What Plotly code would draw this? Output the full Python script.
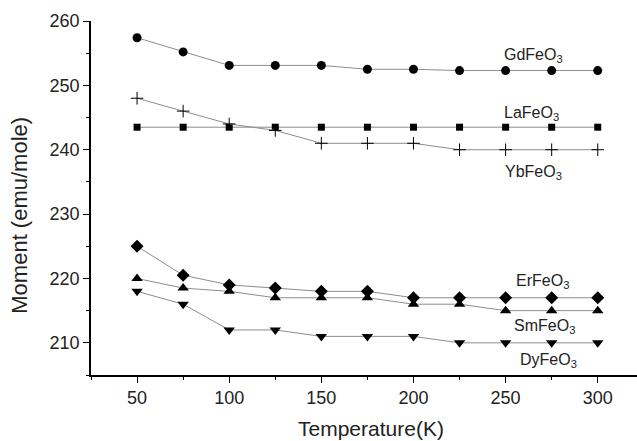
import plotly.graph_objects as go

temps = [50, 75, 100, 125, 150, 175, 200, 225, 250, 275, 300]
gd = [257.4, 255.2, 253.1, 253.1, 253.1, 252.5, 252.5, 252.3, 252.3, 252.3, 252.3]
la = [243.5] * 11
yb = [248, 246, 244, 243, 241, 241, 241, 240, 240, 240, 240]
er = [225, 220.5, 219, 218.5, 218, 218, 217, 217, 217, 217, 217]
sm = [220, 218.5, 218, 217, 217, 217, 216, 216, 215, 215, 215]
dy = [218, 216, 212, 212, 211, 211, 211, 210, 210, 210, 210]

series = [
    ("GdFeO<sub>3</sub>", gd, "circle", 9),
    ("LaFeO<sub>3</sub>", la, "square", 7),
    ("YbFeO<sub>3</sub>", yb, "cross-thin", 9),
    ("ErFeO<sub>3</sub>", er, "diamond", 10),
    ("SmFeO<sub>3</sub>", sm, "triangle-up", 10),
    ("DyFeO<sub>3</sub>", dy, "triangle-down", 10),
]

label_x = [265, 264, 265, 270, 271, 273]
label_y = [254.7, 245.6, 236.5, 219.5, 212.5, 207.2]

FONT = "Liberation Sans, Arial, sans-serif"

fig = go.Figure()
for name, vals, sym, sz in series:
    fig.add_trace(go.Scatter(
        x=temps, y=vals, mode="lines+markers", name=name,
        line=dict(color="#8c8c8c", width=1),
        marker=dict(symbol=sym, size=sz, color="black",
                    line=dict(color="black", width=1 if sym == "cross-thin" else 0)),
    ))

annotations = []
for (name, _, _, _), lx, ly in zip(series, label_x, label_y):
    annotations.append(dict(x=lx, y=ly, xref="x", yref="y", text=name,
                            showarrow=False, font=dict(family=FONT, size=16, color="#222")))

annotations.append(dict(x=0.513, y=-0.15, xref="paper", yref="paper",
                        text="Temperature(K)", showarrow=False, yanchor="middle",
                        font=dict(family=FONT, size=21, color="#222")))
annotations.append(dict(x=-0.130, y=0.45, xref="paper", yref="paper",
                        text="Moment (emu/mole)", showarrow=False, textangle=-90,
                        xanchor="center", yanchor="middle",
                        font=dict(family=FONT, size=22, color="#222")))

fig.update_layout(
    width=637, height=441,
    margin=dict(l=91, r=0, t=21, b=66),
    paper_bgcolor="white", plot_bgcolor="white",
    showlegend=False,
    annotations=annotations,
    font=dict(family=FONT, color="#222"),
)
fig.update_xaxes(
    range=[25, 321.3], dtick=50, tick0=0, ticks="outside", ticklen=6, tickwidth=1.3,
    tickcolor="black", showline=True, linecolor="black", linewidth=1.5,
    showgrid=False, zeroline=False, tickfont=dict(family=FONT, size=18, color="#222"),
    minor=dict(dtick=25, tick0=0, ticks="outside", ticklen=3, tickcolor="black", tickwidth=1.3),
)
fig.update_yaxes(
    range=[205, 260], dtick=10, tick0=0, ticks="outside", ticklen=6, tickwidth=1.3,
    tickcolor="black", showline=True, linecolor="black", linewidth=1.5,
    showgrid=False, zeroline=False, tickfont=dict(family=FONT, size=18, color="#222"),
    minor=dict(dtick=5, tick0=0, ticks="outside", ticklen=3, tickcolor="black", tickwidth=1.3),
)

fig.write_html("out.html")
